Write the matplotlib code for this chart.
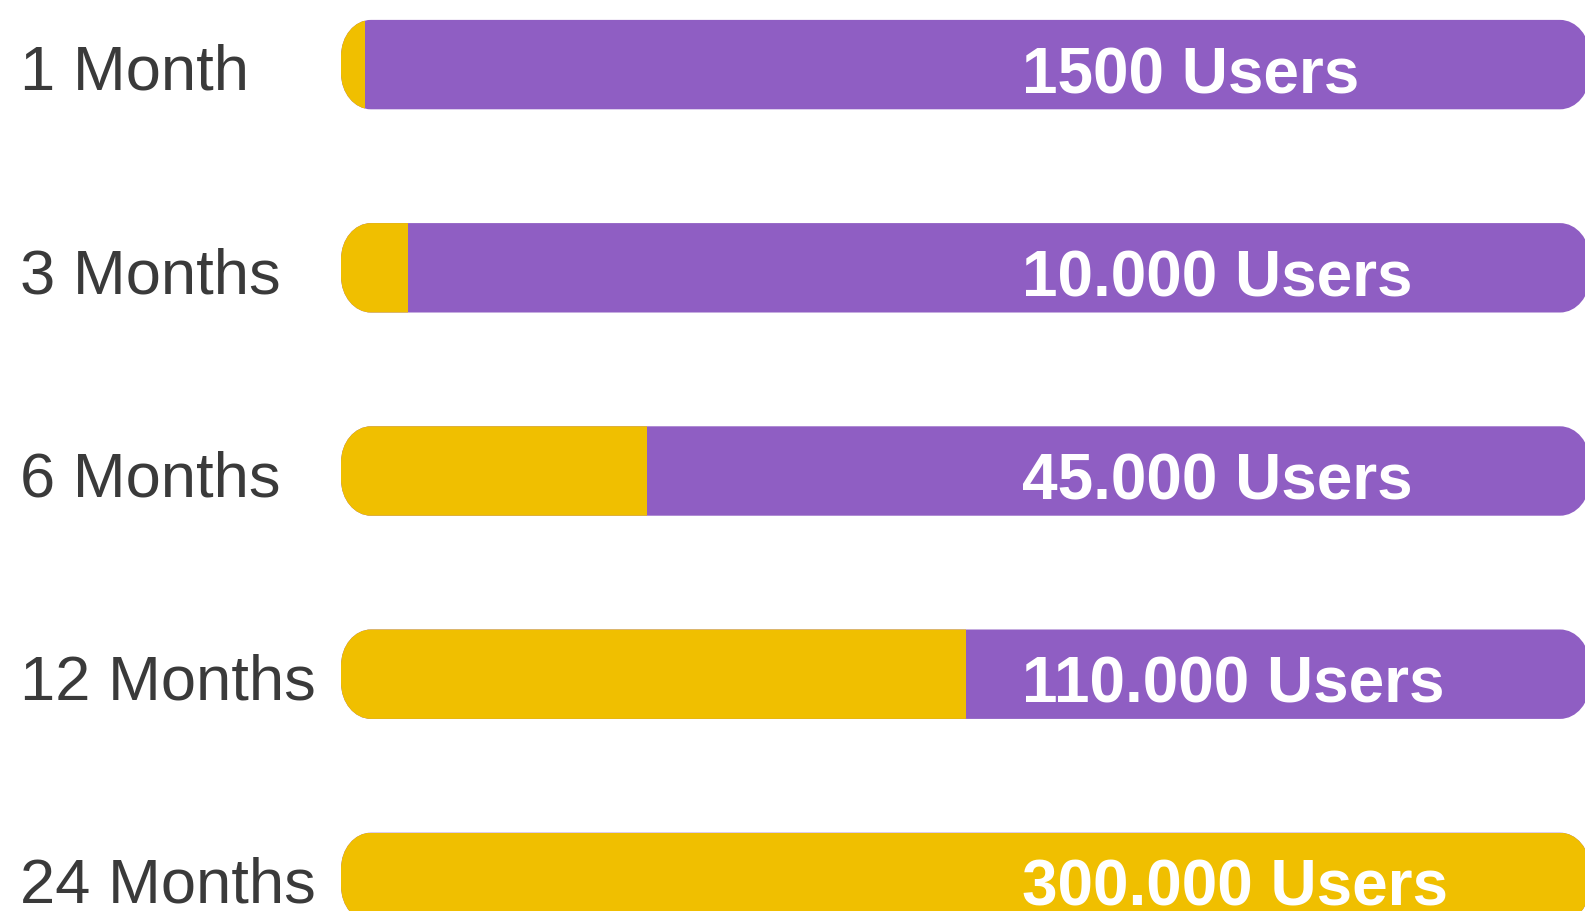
"""User growth milestones drawn as rounded progress bars."""

import matplotlib

matplotlib.use("Agg")
import matplotlib.pyplot as plt
from matplotlib.patches import PathPatch, Rectangle
from matplotlib.path import Path

periods = ["1 Month", "3 Months", "6 Months", "12 Months", "24 Months"]
user_labels = ["1500 Users", "10.000 Users", "45.000 Users", "110.000 Users", "300.000 Users"]
progress = [1.9, 5.4, 24.5, 50, 100]  # percent of the 24 month target

YELLOW = "#F0BF00"
PURPLE = "#8F5EC3"
LABEL_GREY = "#3a3a3a"

# layout in pixels (figure is 1585 x 912 at dpi 100)
FIG_W, FIG_H = 1585, 912
TRACK_LEFT = 341
PX_PER_UNIT = 12.49
ROW_STEP = 203.2
FIRST_ROW = 65.6
BAR_HEIGHT = 0.44
CORNER_X_PX = 30
CORNER_Y_PX = 36
KAPPA = 0.5523


def _rounded_bar(x0: float, x1: float, y0: float, y1: float, rx: float, ry: float) -> Path:
    """Rectangle outline with rounded corners, in data coordinates."""
    k = KAPPA
    verts = [
        (x0 + rx, y0), (x1 - rx, y0),
        (x1 - rx + k * rx, y0), (x1, y0 + ry - k * ry), (x1, y0 + ry),
        (x1, y1 - ry),
        (x1, y1 - ry + k * ry), (x1 - rx + k * rx, y1), (x1 - rx, y1),
        (x0 + rx, y1),
        (x0 + rx - k * rx, y1), (x0, y1 - ry + k * ry), (x0, y1 - ry),
        (x0, y0 + ry),
        (x0, y0 + ry - k * ry), (x0 + rx - k * rx, y0), (x0 + rx, y0),
        (x0 + rx, y0),
    ]
    codes = ([Path.MOVETO, Path.LINETO] + [Path.CURVE4] * 3 + [Path.LINETO]
             + [Path.CURVE4] * 3 + [Path.LINETO] + [Path.CURVE4] * 3 + [Path.LINETO]
             + [Path.CURVE4] * 3 + [Path.CLOSEPOLY])
    return Path(verts, codes)


def main() -> None:
    fig = plt.figure(figsize=(FIG_W / 100, FIG_H / 100), dpi=100)
    ax = fig.add_axes([0, 0, 1, 1])
    ax.set_axis_off()

    ax.set_xlim(-TRACK_LEFT / PX_PER_UNIT, (FIG_W - TRACK_LEFT) / PX_PER_UNIT)
    ax.set_ylim((FIG_H - FIRST_ROW) / ROW_STEP, -FIRST_ROW / ROW_STEP)

    rx = CORNER_X_PX / PX_PER_UNIT
    ry = CORNER_Y_PX / ROW_STEP
    half = BAR_HEIGHT / 2
    label_tf = ax.get_yaxis_transform()

    for i, (period, users, pct) in enumerate(zip(periods, user_labels, progress)):
        track = PathPatch(_rounded_bar(0, 100, i - half, i + half, rx, ry),
                          facecolor=PURPLE, edgecolor="none", clip_on=False)
        ax.add_patch(track)

        fill = Rectangle((0, i - half), pct, BAR_HEIGHT, facecolor=YELLOW, edgecolor="none")
        ax.add_patch(fill)
        fill.set_clip_path(track)

        ax.text(20 / FIG_W, i + 0.12, period, transform=label_tf,
                ha="left", va="baseline", fontsize=45.5, color=LABEL_GREY,
                family="Liberation Sans")
        ax.text(1022 / FIG_W, i + 0.135, users, transform=label_tf,
                ha="left", va="baseline", fontsize=46, fontweight="bold",
                color="white", family="Liberation Sans")

    fig.savefig("out.png", dpi=100)
    plt.close(fig)


if __name__ == "__main__":
    main()
